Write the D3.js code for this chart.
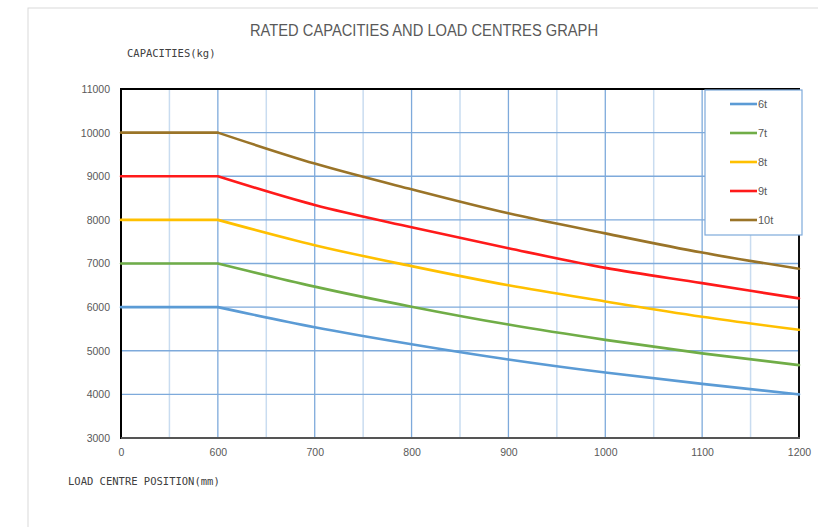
<!DOCTYPE html>
<html>
<head>
<meta charset="utf-8">
<script src="https://cdn.jsdelivr.net/npm/d3@7"></script>
<style>
  html, body { margin: 0; padding: 0; background: #fff; }
  svg { display: block; }
</style>
</head>
<body>
<svg id="chart" width="818" height="527"></svg>
<script>
// ---- data ----
const categories = ["0", "600", "700", "800", "900", "1000", "1100", "1200"];
const seriesNames = ["6t", "7t", "8t", "9t", "10t"];
const values6t  = [6000, 6000, 5540, 5150, 4800, 4500, 4240, 4000];
const values7t  = [7000, 7000, 6470, 6010, 5600, 5250, 4940, 4670];
const values8t  = [8000, 8000, 7420, 6940, 6500, 6130, 5780, 5480];
const values9t  = [9000, 9000, 8340, 7830, 7350, 6900, 6550, 6200];
const values10t = [10000, 10000, 9290, 8700, 8150, 7690, 7250, 6880];
const yTicks = [3000, 4000, 5000, 6000, 7000, 8000, 9000, 10000, 11000];
const seriesColors = ["#5b9bd5", "#70ad47", "#ffc000", "#ff1a1a", "#9a7428"];
const allValues = [values6t, values7t, values8t, values9t, values10t];

(function () {
const svg = d3.select("#chart");
const pLeft = 121, pRight = 799, pTop = 89, pBottom = 438;

// outer chart border
svg.append("rect").attr("x", 28).attr("y", 8).attr("width", 820).attr("height", 540)
  .attr("fill", "none").attr("stroke", "#d9d9d9").attr("stroke-width", 1);

const x = d3.scalePoint().domain(categories).range([pLeft, pRight]);
const y = d3.scaleLinear().domain([3000, 11000]).range([pBottom, pTop]);

// minor vertical gridlines (midpoints)
const step = x.step();
const mids = categories.slice(0, -1).map(c => x(c) + step / 2);
svg.append("g").selectAll("line").data(mids).join("line")
  .attr("x1", d => d).attr("x2", d => d).attr("y1", pTop).attr("y2", pBottom)
  .attr("stroke", "#c9dcf0").attr("stroke-width", 1.5);

// major vertical gridlines
svg.append("g").selectAll("line").data(categories.slice(1)).join("line")
  .attr("x1", d => x(d)).attr("x2", d => x(d)).attr("y1", pTop).attr("y2", pBottom)
  .attr("stroke", "#7eaadb").attr("stroke-width", 1.3);

// horizontal gridlines
svg.append("g").selectAll("line").data(yTicks.slice(1, -1)).join("line")
  .attr("x1", pLeft).attr("x2", pRight).attr("y1", d => y(d)).attr("y2", d => y(d))
  .attr("stroke", "#7eaadb").attr("stroke-width", 1.3);

// plot border
svg.append("line").attr("x1", pLeft).attr("x2", pRight + 1).attr("y1", pTop).attr("y2", pTop)
  .attr("stroke", "#000").attr("stroke-width", 2);
svg.append("line").attr("x1", pRight).attr("x2", pRight).attr("y1", pTop).attr("y2", pBottom)
  .attr("stroke", "#111").attr("stroke-width", 2);
svg.append("line").attr("x1", pLeft).attr("x2", pLeft).attr("y1", pTop - 1).attr("y2", pBottom + 1)
  .attr("stroke", "#000").attr("stroke-width", 2);
svg.append("line").attr("x1", pLeft).attr("x2", pRight + 1).attr("y1", pBottom).attr("y2", pBottom)
  .attr("stroke", "#555").attr("stroke-width", 2);

// y axis labels
const yAxis = d3.axisLeft(y).tickValues(yTicks).tickFormat(d3.format("d")).tickSize(0).tickPadding(11);
const gy = svg.append("g").attr("transform", `translate(${pLeft},0)`).call(yAxis);
gy.select(".domain").remove();
gy.selectAll("text").attr("fill", "#595959").attr("font-size", 10.5)
  .attr("font-family", "'Liberation Sans', Arial, sans-serif");

// x axis labels
const xAxis = d3.axisBottom(x).tickSize(0).tickPadding(11);
const gx = svg.append("g").attr("transform", `translate(0,${pBottom})`).call(xAxis);
gx.select(".domain").remove();
gx.selectAll("text").attr("fill", "#595959").attr("font-size", 10.5)
  .attr("font-family", "'Liberation Sans', Arial, sans-serif");

// series lines: straight plateau to 600, then smoothed
const flat = d3.line().x(d => x(d.c)).y(d => y(d.v));
const smooth = d3.line().x(d => x(d.c)).y(d => y(d.v)).curve(d3.curveMonotoneX);
const pathFor = vals => {
  const pts = vals.map((v, i) => ({ c: categories[i], v }));
  return flat(pts.slice(0, 2)) + smooth(pts.slice(1));
};
svg.append("g").selectAll("path").data(allValues).join("path")
  .attr("d", d => pathFor(d)).attr("fill", "none")
  .attr("stroke", (d, i) => seriesColors[i]).attr("stroke-width", 2.6)
  .attr("stroke-linejoin", "round").attr("stroke-linecap", "round");

// legend
const lg = svg.append("g");
lg.append("rect").attr("x", 705).attr("y", 90).attr("width", 97).attr("height", 145)
  .attr("fill", "#fff").attr("stroke", "#7eaadb").attr("stroke-width", 1.2);
const items = lg.selectAll("g.item").data(seriesNames).join("g").attr("class", "item")
  .attr("transform", (d, i) => `translate(0,${104 + i * 29})`);
items.append("line").attr("x1", 730).attr("x2", 757).attr("y1", 0).attr("y2", 0)
  .attr("stroke", (d, i) => seriesColors[i]).attr("stroke-width", 2.6);
items.append("text").attr("x", 758).attr("y", 0).attr("dy", "0.35em")
  .attr("fill", "#595959").attr("font-size", 11)
  .attr("font-family", "'Liberation Sans', Arial, sans-serif").text(d => d);

// title
svg.append("text").attr("x", 424).attr("y", 36).attr("text-anchor", "middle")
  .attr("fill", "#595959").attr("font-size", 16)
  .attr("textLength", 348).attr("lengthAdjust", "spacingAndGlyphs")
  .attr("font-family", "'Liberation Sans', Arial, sans-serif")
  .text("RATED CAPACITIES AND LOAD CENTRES GRAPH");

// axis titles
svg.append("text").attr("x", 127).attr("y", 57)
  .attr("fill", "#404040").attr("font-size", 10.5)
  .attr("font-family", "'DejaVu Sans Mono', 'Liberation Mono', monospace")
  .text("CAPACITIES(kg)");
svg.append("text").attr("x", 68).attr("y", 485)
  .attr("fill", "#404040").attr("font-size", 10.5)
  .attr("font-family", "'DejaVu Sans Mono', 'Liberation Mono', monospace")
  .text("LOAD CENTRE POSITION(mm)");
})();
</script>
</body>
</html>
